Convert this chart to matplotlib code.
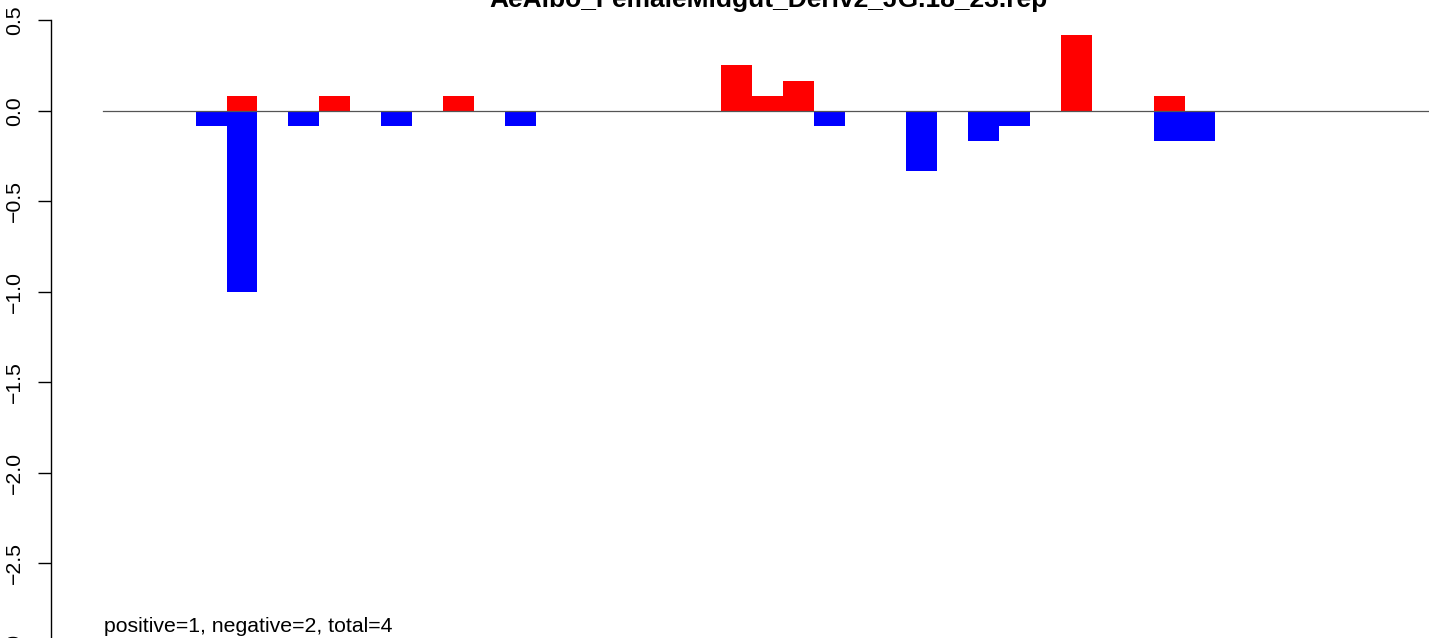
import numpy as np
from matplotlib import pyplot as plt

plt.rcParams['font.family'] = ['Liberation Sans', 'DejaVu Sans']

title = "AeAlbo_FemaleMidgut_Deriv2_JG.18_23.rep"
note = "positive=1, negative=2, total=4"

# one slot per window, positive (red) and negative (blue) share the same slot
n_slots = 40
pos_slot = [4, 7, 11, 20, 21, 22, 31, 34]
pos_val = [0.0833, 0.0833, 0.0833, 0.25, 0.0833, 0.1667, 0.4167, 0.0833]
neg_slot = [3, 4, 6, 9, 13, 23, 26, 28, 29, 34, 35]
neg_val = [-0.0833, -1.0, -0.0833, -0.0833, -0.0833, -0.0833, -0.3333,
           -0.1667, -0.0833, -0.1667, -0.1667]
yticks = [0.5, 0.0, -0.5, -1.0, -1.5, -2.0, -2.5, -3.0]

W, H = 1429, 638
fig = plt.figure(figsize=(W / 100, H / 100), dpi=100)
ax = fig.add_axes([0, 0, 1, 1])

ax.bar(pos_slot, pos_val, width=1, align='edge', color='#ff0000', linewidth=0)
ax.bar(neg_slot, neg_val, width=1, align='edge', color='#0000ff', linewidth=0)

# pixel layout of the plotting region
x0_px, slot_px = 103, 30.9
y0_px, unit_px = 110.7, 181.0
ax.axhline(0, xmin=x0_px / W, xmax=1, color='#555555', lw=0.9)

for s in ['top', 'right', 'bottom']:
    ax.spines[s].set_visible(False)
ax.set_xticks([])
# R draws the labels by hand at the tick positions, do the same so the
# last one (cut by the bottom edge) still shows
ax.set_yticks(yticks)
ax.set_yticklabels([])
ax.set_xlim(-x0_px / slot_px, (W - x0_px) / slot_px)
ax.set_ylim((y0_px - H) / unit_px, y0_px / unit_px)
ax.spines['left'].set_position(('data', (51 - x0_px) / slot_px))
ax.spines['left'].set_bounds(-3.0, 0.5)
ax.spines['left'].set_linewidth(1.0)
ax.tick_params(axis='y', length=9.4, width=1.0)
for v in yticks:
    ax.text((20 - x0_px) / slot_px, v, ('%.1f' % v).replace('-', '\u2212'),
            rotation=90, rotation_mode='anchor', ha='center', va='baseline',
            fontsize=15.3, clip_on=False)

fig.text(768 / W, 1 - 7 / H, title, ha='center', va='baseline',
         fontsize=19, fontweight='bold')
fig.text(104 / W, 1 - 632 / H, note, ha='left', va='baseline', fontsize=15.3)

fig.savefig('out.png', dpi=100)
